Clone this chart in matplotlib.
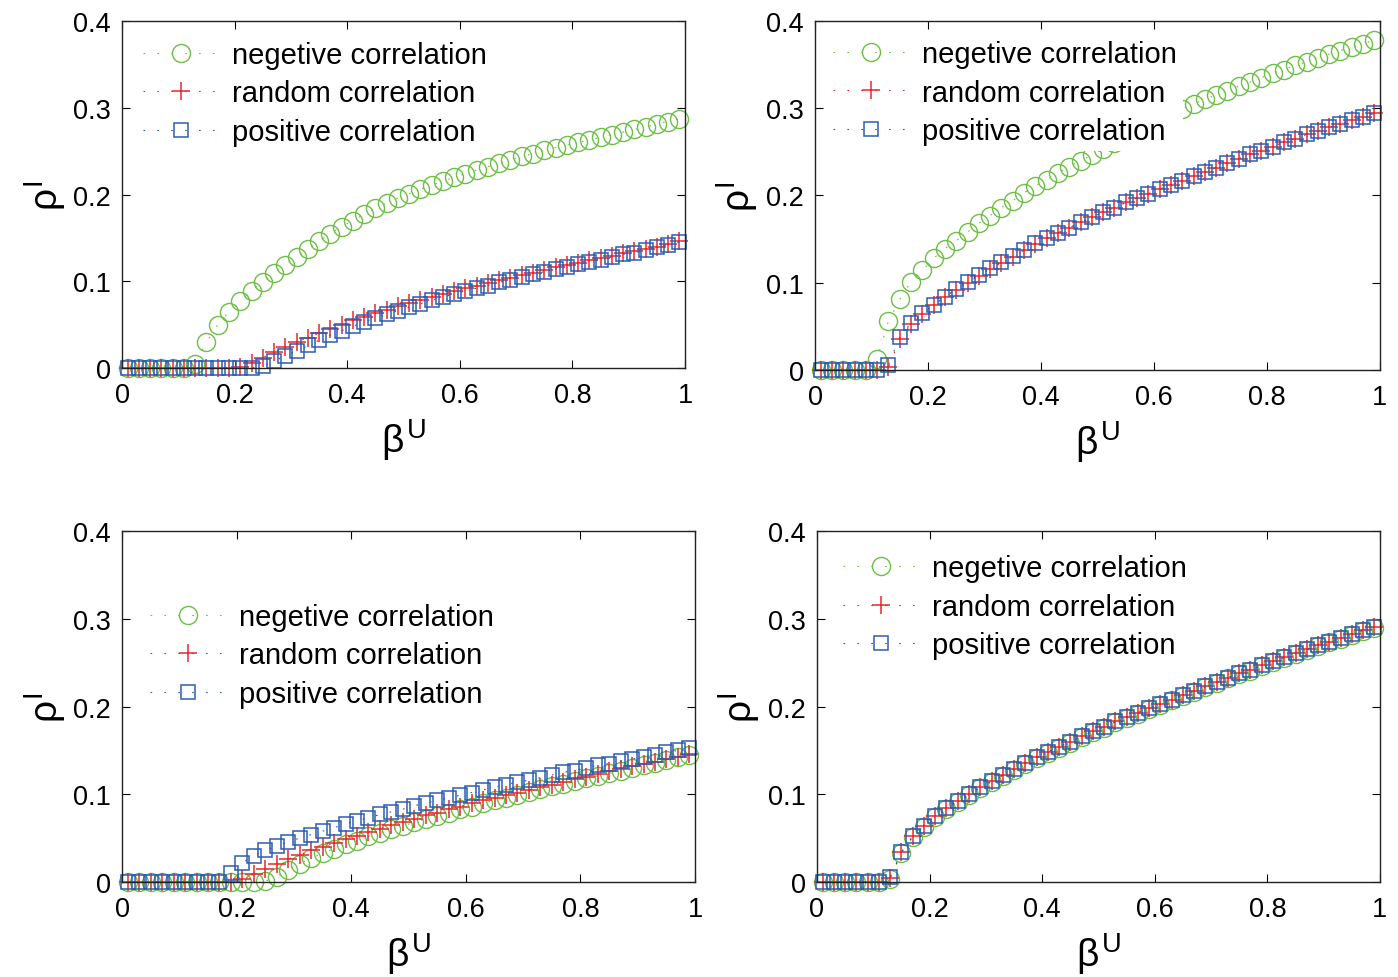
import numpy as np
import matplotlib
matplotlib.use("Agg")
import matplotlib.pyplot as plt

plt.rcParams['font.family'] = ['Liberation Sans', 'DejaVu Sans']
plt.rcParams['mathtext.fontset'] = 'custom'
plt.rcParams['mathtext.rm'] = 'Liberation Sans'
plt.rcParams['mathtext.it'] = 'Liberation Sans'

# infection rate of the upper layer, one sample every 0.02
beta_u = [0.01, 0.03, 0.05, 0.07, 0.09, 0.11, 0.13, 0.15, 0.17, 0.19,
          0.21, 0.23, 0.25, 0.27, 0.29, 0.31, 0.33, 0.35, 0.37, 0.39,
          0.41, 0.43, 0.45, 0.47, 0.49, 0.51, 0.53, 0.55, 0.57, 0.59,
          0.61, 0.63, 0.65, 0.67, 0.69, 0.71, 0.73, 0.75, 0.77, 0.79,
          0.81, 0.83, 0.85, 0.87, 0.89, 0.91, 0.93, 0.95, 0.97, 0.99]

labels = ["negetive correlation", "random correlation", "positive correlation"]

# (a) upper left
a_neg = [0, 0, 0, 0, 0, 0, 0.005, 0.030, 0.050, 0.065,
         0.077, 0.089, 0.099, 0.109, 0.119, 0.128, 0.137, 0.146, 0.155, 0.163,
         0.170, 0.177, 0.184, 0.190, 0.196, 0.201, 0.206, 0.211, 0.215, 0.220,
         0.224, 0.228, 0.232, 0.236, 0.240, 0.244, 0.247, 0.251, 0.254, 0.257,
         0.260, 0.263, 0.266, 0.269, 0.272, 0.275, 0.278, 0.281, 0.284, 0.287]
a_rnd = [0, 0, 0, 0, 0, 0, 0, 0, 0, 0,
         0.001, 0.006, 0.012, 0.018, 0.024, 0.030, 0.035, 0.040, 0.045, 0.050,
         0.055, 0.059, 0.063, 0.067, 0.071, 0.075, 0.078, 0.082, 0.085, 0.089,
         0.092, 0.095, 0.098, 0.101, 0.104, 0.107, 0.110, 0.113, 0.116, 0.119,
         0.121, 0.124, 0.127, 0.129, 0.132, 0.135, 0.137, 0.140, 0.143, 0.146]
a_pos = [0, 0, 0, 0, 0, 0, 0, 0, 0, 0,
         0, 0, 0.002, 0.008, 0.014, 0.020, 0.026, 0.032, 0.038, 0.043,
         0.048, 0.053, 0.058, 0.062, 0.066, 0.070, 0.074, 0.078, 0.082, 0.085,
         0.089, 0.092, 0.095, 0.099, 0.102, 0.105, 0.108, 0.111, 0.114, 0.117,
         0.120, 0.122, 0.125, 0.128, 0.131, 0.133, 0.136, 0.139, 0.142, 0.145]

# (b) upper right
b_neg = [0, 0, 0, 0, 0, 0.013, 0.056, 0.081, 0.101, 0.114,
         0.128, 0.139, 0.148, 0.158, 0.168, 0.177, 0.186, 0.194, 0.203, 0.211,
         0.218, 0.226, 0.233, 0.240, 0.246, 0.253, 0.260, 0.267, 0.274, 0.281,
         0.287, 0.293, 0.299, 0.305, 0.310, 0.315, 0.320, 0.325, 0.330, 0.335,
         0.340, 0.344, 0.349, 0.353, 0.358, 0.362, 0.366, 0.370, 0.374, 0.378]
b_rnd = [0, 0, 0, 0, 0, 0, 0.003, 0.035, 0.053, 0.064,
         0.074, 0.084, 0.092, 0.100, 0.108, 0.116, 0.123, 0.130, 0.137, 0.144,
         0.151, 0.157, 0.163, 0.169, 0.175, 0.181, 0.186, 0.192, 0.197, 0.202,
         0.207, 0.212, 0.217, 0.222, 0.227, 0.232, 0.237, 0.242, 0.247, 0.251,
         0.256, 0.261, 0.265, 0.270, 0.274, 0.278, 0.282, 0.286, 0.290, 0.294]
b_pos = [0, 0, 0, 0, 0, 0, 0.006, 0.038, 0.054, 0.065,
         0.075, 0.084, 0.093, 0.101, 0.109, 0.117, 0.124, 0.131, 0.138, 0.145,
         0.151, 0.157, 0.163, 0.169, 0.175, 0.181, 0.186, 0.192, 0.197, 0.202,
         0.207, 0.212, 0.217, 0.222, 0.227, 0.232, 0.237, 0.242, 0.247, 0.251,
         0.256, 0.261, 0.265, 0.270, 0.274, 0.278, 0.282, 0.286, 0.290, 0.294]

# (c) lower left
c_neg = [0, 0, 0, 0, 0, 0, 0, 0, 0, 0,
         0, 0, 0.001, 0.006, 0.014, 0.021, 0.027, 0.033, 0.038, 0.043,
         0.047, 0.052, 0.056, 0.060, 0.064, 0.068, 0.072, 0.075, 0.079, 0.083,
         0.086, 0.090, 0.093, 0.096, 0.099, 0.103, 0.106, 0.109, 0.112, 0.115,
         0.118, 0.121, 0.124, 0.127, 0.130, 0.133, 0.136, 0.139, 0.142, 0.145]
c_rnd = [0, 0, 0, 0, 0, 0, 0, 0, 0, 0,
         0.003, 0.009, 0.015, 0.021, 0.026, 0.031, 0.036, 0.040, 0.045, 0.049,
         0.053, 0.057, 0.061, 0.065, 0.068, 0.072, 0.076, 0.079, 0.083, 0.086,
         0.090, 0.093, 0.096, 0.099, 0.102, 0.105, 0.108, 0.111, 0.114, 0.117,
         0.120, 0.123, 0.126, 0.129, 0.132, 0.134, 0.137, 0.140, 0.143, 0.146]
c_pos = [0, 0, 0, 0, 0, 0, 0, 0, 0, 0.010,
         0.022, 0.030, 0.036, 0.041, 0.046, 0.050, 0.054, 0.058, 0.062, 0.066,
         0.070, 0.073, 0.077, 0.080, 0.083, 0.087, 0.090, 0.093, 0.096, 0.099,
         0.102, 0.105, 0.108, 0.111, 0.114, 0.116, 0.119, 0.122, 0.125, 0.127,
         0.130, 0.133, 0.135, 0.138, 0.140, 0.143, 0.145, 0.148, 0.150, 0.153]

# (d) lower right
d_neg = [0, 0, 0, 0, 0, 0, 0.004, 0.033, 0.051, 0.063,
         0.074, 0.083, 0.091, 0.099, 0.107, 0.114, 0.121, 0.128, 0.135, 0.141,
         0.147, 0.153, 0.159, 0.165, 0.171, 0.176, 0.182, 0.187, 0.192, 0.197,
         0.202, 0.207, 0.212, 0.217, 0.222, 0.227, 0.232, 0.237, 0.241, 0.246,
         0.251, 0.255, 0.260, 0.264, 0.269, 0.273, 0.277, 0.282, 0.286, 0.290]
d_rnd = [0, 0, 0, 0, 0, 0, 0.005, 0.034, 0.052, 0.064,
         0.075, 0.084, 0.092, 0.100, 0.108, 0.115, 0.122, 0.129, 0.136, 0.142,
         0.148, 0.154, 0.160, 0.166, 0.172, 0.177, 0.183, 0.188, 0.193, 0.198,
         0.203, 0.208, 0.213, 0.218, 0.223, 0.228, 0.233, 0.238, 0.242, 0.247,
         0.252, 0.256, 0.261, 0.265, 0.270, 0.274, 0.278, 0.283, 0.287, 0.291]
d_pos = [0, 0, 0, 0, 0, 0, 0.006, 0.034, 0.052, 0.064,
         0.075, 0.084, 0.092, 0.100, 0.108, 0.115, 0.122, 0.129, 0.136, 0.142,
         0.148, 0.154, 0.160, 0.166, 0.172, 0.177, 0.183, 0.188, 0.193, 0.198,
         0.203, 0.208, 0.213, 0.218, 0.223, 0.228, 0.233, 0.238, 0.242, 0.247,
         0.252, 0.256, 0.261, 0.265, 0.270, 0.274, 0.278, 0.283, 0.287, 0.291]

green = "#6cbf45"
red = "#e8282d"
blue = "#2d5cb0"

# sparse dots, like a matlab ':' line
DOTS = (0, (1.5, 11))


def draw_panel(ax, neg, rnd, pos, legend_anchor):
    '''draws the three correlation curves of one panel'''
    ax.plot(beta_u, neg, linestyle=DOTS, linewidth=0.8, color=green,
            marker="o", markersize=13, markerfacecolor="none",
            markeredgewidth=1.0, label=labels[0], clip_on=False)
    ax.plot(beta_u, rnd, linestyle=DOTS, linewidth=0.8, color=red,
            marker="+", markersize=13, markeredgewidth=1.1, label=labels[1],
            clip_on=False)
    ax.plot(beta_u, pos, linestyle=DOTS, linewidth=0.8, color=blue,
            marker="s", markersize=10.5, markerfacecolor="none",
            markeredgewidth=1.1, label=labels[2], clip_on=False)

    ax.set_xlim(0, 1)
    ax.set_ylim(0, 0.4)
    ax.set_xticks([0, 0.2, 0.4, 0.6, 0.8, 1])
    ax.set_xticklabels(["0", "0.2", "0.4", "0.6", "0.8", "1"])
    ax.set_yticks([0, 0.1, 0.2, 0.3, 0.4])
    ax.set_yticklabels(["0", "0.1", "0.2", "0.3", "0.4"])
    ax.tick_params(direction="in", top=True, right=True, length=6,
                   width=0.8, labelsize=19.5)
    ax.tick_params(axis="x", pad=10)
    ax.tick_params(axis="y", pad=8)
    for sp in ax.spines.values():
        sp.set_linewidth(1.0)
        sp.set_color("#222222")
    ax.set_xlabel(r"$\beta^{\mathrm{U}}$", fontsize=28, labelpad=6)
    ax.set_ylabel(r"$\rho^{\mathrm{I}}$", fontsize=28, labelpad=4)

    leg = ax.legend(loc="upper left", bbox_to_anchor=legend_anchor,
                    fontsize=21, frameon=True, handlelength=2.6,
                    handletextpad=0.45, labelspacing=0.36, borderpad=0.2,
                    borderaxespad=0.0)
    leg.get_frame().set_edgecolor("none")
    leg.get_frame().set_facecolor("white")
    leg.get_frame().set_alpha(1.0)
    leg.set_zorder(5)


fig = plt.figure(figsize=(13.98, 9.78), dpi=100)
ax_a = fig.add_axes([0.0873, 0.6227, 0.4027, 0.3548])
ax_b = fig.add_axes([0.5830, 0.6207, 0.4041, 0.3569])
ax_c = fig.add_axes([0.0873, 0.0971, 0.4099, 0.3589])
ax_d = fig.add_axes([0.5844, 0.0971, 0.4027, 0.3589])

draw_panel(ax_a, a_neg, a_rnd, a_pos, (0.027, 0.96))
draw_panel(ax_b, b_neg, b_rnd, b_pos, (0.022, 0.962))
draw_panel(ax_c, c_neg, c_rnd, c_pos, (0.038, 0.812))
draw_panel(ax_d, d_neg, d_rnd, d_pos, (0.036, 0.95))

fig.savefig("out.png", dpi=100)
